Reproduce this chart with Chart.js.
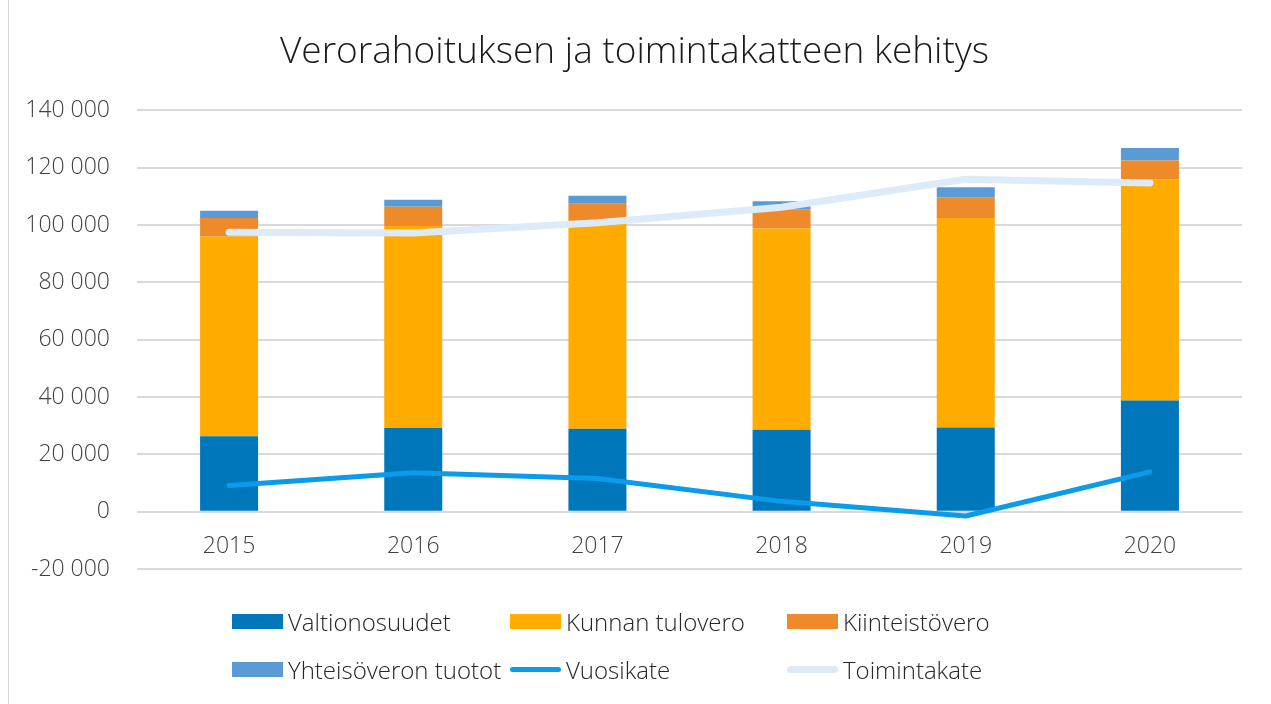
<!DOCTYPE html>
<html><head><meta charset="utf-8">
<script src="https://cdn.jsdelivr.net/npm/chart.js@4/dist/chart.umd.min.js"></script>
<style>
html,body{margin:0;padding:0;background:#fff;}
#wrap{position:relative;width:1271px;height:704px;overflow:hidden;background:#fff;}
#frame{position:absolute;left:8px;top:0;width:1px;height:704px;background:#d9d9d9;}
canvas{position:absolute;left:0;top:0;}
#legend{position:absolute;left:0;top:0;width:1271px;height:704px;font-family:'Open Sans',sans-serif;font-size:24px;font-weight:300;color:#262626;pointer-events:none;}
.item{position:absolute;display:flex;align-items:center;white-space:nowrap;height:30px;}
.sw{width:51px;margin-right:5px;flex:none;}
</style></head>
<body><div id="wrap"><div id="frame"></div><canvas id="c" width="1271" height="704"></canvas><div id="legend"></div></div>
<script>
const years = ['2015','2016','2017','2018','2019','2020'];
const valtionosuudet = [26300, 29200, 28900, 28600, 29400, 38800];
const kunnanTulovero = [69700, 70500, 71500, 70200, 73100, 77200];
const kiinteistovero = [6500, 6700, 7000, 6700, 7200, 6500];
const yhteisovero = [2500, 2450, 2800, 2800, 3500, 4400];
const vuosikate = [9100, 13600, 11600, 3600, -1500, 13900];
const toimintakate = [97500, 97200, 100800, 106200, 116000, 114700];
const yTicks = [-20000, 0, 20000, 40000, 60000, 80000, 100000, 120000, 140000];

const FONT = 'Open Sans';
const fmt = v => String(v).replace(/\B(?=(\d{3})+(?!\d))/g, ' ');

const chart = new Chart(document.getElementById('c'), {
  data: {
    labels: years,
    datasets: [
      {type:'bar', label:'Valtionosuudet', data:valtionosuudet, backgroundColor:'#0077BB', stack:'bars', order:2},
      {type:'bar', label:'Kunnan tulovero', data:kunnanTulovero, backgroundColor:'#FFAB00', stack:'bars', order:2},
      {type:'bar', label:'Kiinteistövero', data:kiinteistovero, backgroundColor:'#EE8A2A', stack:'bars', order:2},
      {type:'bar', label:'Yhteisöveron tuotot', data:yhteisovero, backgroundColor:'#5B9BD5', stack:'bars', order:2},
      {type:'line', label:'Vuosikate', data:vuosikate, borderColor:'#0A9BEA', backgroundColor:'#0A9BEA', borderWidth:5, pointRadius:0, tension:0, borderCapStyle:'round', borderJoinStyle:'round', stack:'l1', order:0, fill:false},
      {type:'line', label:'Toimintakate', data:toimintakate, borderColor:'#DDEBF8', backgroundColor:'#DDEBF8', borderWidth:7, pointRadius:0, tension:0, borderCapStyle:'round', borderJoinStyle:'round', stack:'l2', order:1, fill:false}
    ]
  },
  options: {
    responsive:false, animation:false,
    layout:{padding:{left:27, right:29, top:0, bottom:135}},
    datasets:{bar:{barPercentage:0.315, categoryPercentage:1}},
    plugins:{
      legend:{display:false},
      tooltip:{enabled:false},
      title:{display:true, text:'Verorahoituksen ja toimintakatteen kehitys', color:'#1a1a1a',
        font:{family:FONT, size:37, weight:'300'}, padding:{top:30, bottom:36}}
    },
    scales:{
      x:{stacked:true, position:{y:0}, grid:{display:false, drawTicks:false}, border:{display:false},
         ticks:{font:{family:FONT, size:23, weight:'300'}, color:'#404040', padding:21}},
      y:{stacked:true, min:yTicks[0], max:yTicks[yTicks.length-1],
         afterBuildTicks: s => { s.ticks = yTicks.map(v => ({value:v})); },
         afterFit: s => { s.width = 110; },
         ticks:{font:{family:FONT, size:23, weight:'300'}, color:'#404040', padding:27, callback:v => fmt(v)},
         grid:{color:'#D9D9D9', lineWidth:2, drawTicks:false}, border:{display:false}}
    }
  }
});

const legend = document.getElementById('legend');
const colX = [232, 510, 787];
const rowY = [621, 669];
chart.data.datasets.forEach((ds, i) => {
  const item = document.createElement('div');
  item.className = 'item';
  item.style.left = colX[i % 3] + 'px';
  item.style.top = (rowY[Math.floor(i / 3)] - 15) + 'px';
  const sw = document.createElement('div');
  sw.className = 'sw';
  if (ds.type === 'line') {
    sw.style.height = ds.borderWidth + 'px';
    sw.style.borderRadius = '4px';
    sw.style.background = ds.borderColor;
  } else {
    sw.style.height = '15px';
    sw.style.background = ds.backgroundColor;
  }
  const tx = document.createElement('span');
  tx.textContent = ds.label;
  item.appendChild(sw); item.appendChild(tx);
  legend.appendChild(item);
});
</script>
</body></html>
